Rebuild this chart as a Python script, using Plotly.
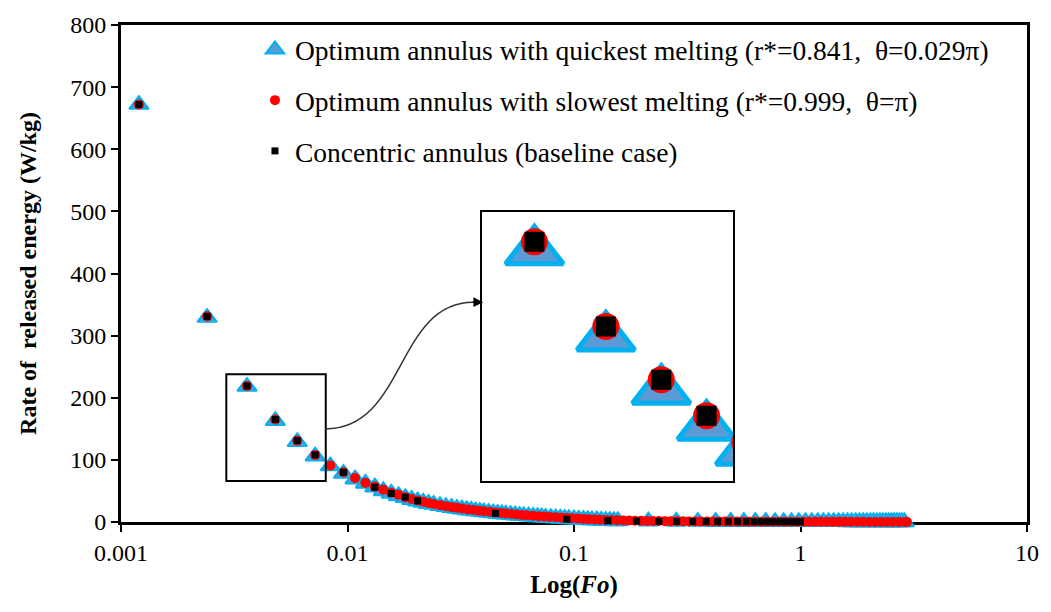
import plotly.graph_objects as go

# ---------------- data ----------------
quick_fo = [0.0012, 0.0024, 0.0036, 0.0048, 0.006, 0.0072, 0.0084, 0.0096, 0.0108, 0.012,
            0.0132, 0.0144, 0.0156, 0.0168, 0.018, 0.0192, 0.0204, 0.0216, 0.0228, 0.024,
            0.0256, 0.0272, 0.0288, 0.0304, 0.032, 0.0336, 0.0352, 0.0368, 0.0384, 0.04,
            0.042, 0.044, 0.046, 0.048, 0.05, 0.0525, 0.055, 0.0575, 0.06, 0.063,
            0.066, 0.069, 0.072, 0.075, 0.079, 0.083, 0.087, 0.091, 0.095, 0.1,
            0.105, 0.11, 0.115, 0.12, 0.126, 0.132, 0.138, 0.144, 0.15, 0.156,
            0.213, 0.283, 0.352, 0.422, 0.492, 0.562, 0.632, 0.702, 0.772, 0.842,
            0.912, 0.982, 1.052, 1.122, 1.192, 1.262, 1.332, 1.402, 1.472, 1.542,
            1.612, 1.682, 1.752, 1.822, 1.892, 1.962, 2.032, 2.102, 2.172, 2.242,
            2.312, 2.382, 2.452, 2.522, 2.592, 2.662, 2.732, 2.802, 2.872]
quick_rate = [672, 329, 218, 163, 129, 106, 90, 78, 69, 62,
              56, 50, 46, 42, 39, 36, 33.5, 31.5, 29.5, 28,
              26, 24.5, 23, 21.7, 20.5, 19.5, 18.5, 17.6, 16.8, 16,
              15.1, 14.3, 13.6, 12.9, 12.3, 11.6, 11, 10.4, 9.9, 9.3,
              8.7, 8.2, 7.7, 7.2, 6.7, 6.2, 5.7, 5.3, 4.9, 4.5,
              4.1, 3.7, 3.4, 3.1, 2.8, 2.5, 2.2, 2.0, 1.8, 1.6,
              1.2, 0.9, 0.7, 0.6, 0.5, 0.45, 0.4, 0.38, 0.35, 0.33,
              0.31, 0.3, 0.28, 0.27, 0.26, 0.25, 0.24, 0.23, 0.22, 0.21,
              0.2, 0.2, 0.19, 0.18, 0.18, 0.17, 0.17, 0.16, 0.16, 0.15,
              0.15, 0.14, 0.14, 0.13, 0.13, 0.12, 0.12, 0.12, 0.11]

slow_fo = [0.0012, 0.0024, 0.0036, 0.0048, 0.006, 0.0072, 0.0084, 0.0096, 0.0108, 0.012,
           0.0132, 0.0144, 0.0156, 0.0168, 0.018, 0.0192, 0.0204, 0.0216, 0.0228, 0.024,
           0.0256, 0.0272, 0.0288, 0.0304, 0.032, 0.034, 0.036, 0.038, 0.040, 0.0425,
           0.045, 0.0475, 0.050, 0.053, 0.056, 0.059, 0.062, 0.066, 0.070, 0.074,
           0.078, 0.083, 0.088, 0.093, 0.098, 0.104, 0.110, 0.116, 0.123, 0.130,
           0.138, 0.146, 0.155, 0.165, 0.175, 0.186, 0.198, 0.21, 0.223, 0.237,
           0.252, 0.268, 0.285, 0.303, 0.322, 0.342, 0.364, 0.387, 0.411, 0.437,
           0.465, 0.494, 0.525, 0.558, 0.593, 0.63, 0.67, 0.712, 0.757, 0.805,
           0.855, 0.909, 0.966, 1.03, 1.09, 1.16, 1.23, 1.31, 1.39, 1.48,
           1.57, 1.67, 1.78, 1.89, 2.01, 2.14, 2.27, 2.41, 2.56, 2.72,
           2.89, 2.95]
slow_rate = [672, 331, 219, 165, 131, 108, 91, 80, 71, 63,
             57, 52, 47, 44, 40, 37, 34.5, 32.5, 30.5, 29,
             27, 25.5, 24, 22.8, 21.6, 20.3, 19.2, 18.2, 17.3, 16.3,
             15.3, 14.5, 13.7, 12.9, 12.1, 11.4, 10.8, 10.1, 9.4, 8.8,
             8.2, 7.6, 7.0, 6.5, 6.0, 5.5, 5.0, 4.6, 4.2, 3.8,
             3.4, 3.1, 2.8, 2.5, 2.3, 2.1, 1.9, 1.7, 1.6, 1.5,
             1.4, 1.3, 1.2, 1.1, 1.0, 0.95, 0.9, 0.85, 0.8, 0.75,
             0.7, 0.66, 0.62, 0.58, 0.55, 0.52, 0.49, 0.46, 0.43, 0.41,
             0.39, 0.37, 0.35, 0.33, 0.31, 0.3, 0.28, 0.27, 0.26, 0.25,
             0.24, 0.23, 0.22, 0.21, 0.2, 0.19, 0.18, 0.17, 0.16, 0.15,
             0.14, 0.14]

base_fo = [0.0012, 0.0024, 0.0036, 0.0048, 0.006, 0.0072, 0.0096, 0.0132, 0.0156, 0.018,
           0.0204, 0.045, 0.093, 0.141, 0.189, 0.237, 0.284, 0.334, 0.383, 0.431,
           0.48, 0.528, 0.576, 0.624, 0.672, 0.72, 0.768, 0.816, 0.864, 0.912,
           0.96, 1.0]
base_rate = [672, 331, 219, 165, 131, 108, 80, 56, 46, 40,
             34, 14, 4.5, 2.2, 1.5, 1.1, 0.9, 0.75, 0.65, 0.55,
             0.5, 0.45, 0.42, 0.4, 0.38, 0.36, 0.34, 0.33, 0.32, 0.31,
             0.3, 0.3]

series_names = [
    "Optimum annulus with quickest melting (r*=0.841,  \u03b8=0.029\u03c0)",
    "Optimum annulus with slowest melting (r*=0.999,  \u03b8=\u03c0)",
    "Concentric annulus (baseline case)",
]
x_tick_vals = [0.001, 0.01, 0.1, 1, 10]
x_tick_text = ["0.001", "0.01", "0.1", "1", "10"]
x_title = "Log(<i>Fo</i>)"
y_title = "Rate of  released energy (W/kg)"

# zoomed window shown in the inset (log10 Fo range, rate range)
inset_logfo = [-2.535, -2.096]
inset_rate = [66, 238]

# ---------------- styling ----------------
FONT = "Liberation Serif, Times New Roman, serif"
BLUE_FILL = "#5B9BD5"
BLUE_EDGE = "#00B0F0"
W, H = 1051, 612
L, R, T, B = 121, 17, 20, 90
PW, PH = W - L - R, H - T - B


def px_x(px):
    return (px - L) / PW


def px_y(py):
    return (H - B - py) / PH


fig = go.Figure()

# main traces
fig.add_trace(go.Scatter(x=quick_fo, y=quick_rate, mode="markers", name=series_names[0],
                         legendgroup="a", cliponaxis=False,
                         marker=dict(symbol="triangle-up", size=17, color=BLUE_FILL,
                                     line=dict(color=BLUE_EDGE, width=2))))
fig.add_trace(go.Scatter(x=slow_fo, y=slow_rate, mode="markers", name=series_names[1],
                         legendgroup="b", cliponaxis=False,
                         marker=dict(symbol="circle", size=10, color="#FF0000")))
fig.add_trace(go.Scatter(x=base_fo, y=base_rate, mode="markers", name=series_names[2],
                         legendgroup="c", cliponaxis=False,
                         marker=dict(symbol="square", size=7, color="#000000")))

# inset (magnified view of the same data); triangles on the base inset axis,
# circles and squares on the overlaying axis so they sit on top
fig.add_trace(go.Scatter(x=quick_fo, y=quick_rate, mode="markers", showlegend=False,
                         xaxis="x2", yaxis="y2", cliponaxis=True, hoverinfo="skip",
                         marker=dict(symbol="triangle-up", size=50, color=BLUE_FILL,
                                     line=dict(color=BLUE_EDGE, width=5))))
fig.add_trace(go.Scatter(x=slow_fo, y=slow_rate, mode="markers", showlegend=False,
                         xaxis="x2", yaxis="y3", cliponaxis=True, hoverinfo="skip",
                         marker=dict(symbol="circle", size=27, color="#FF0000")))
fig.add_trace(go.Scatter(x=base_fo, y=base_rate, mode="markers", showlegend=False,
                         xaxis="x2", yaxis="y3", cliponaxis=True, hoverinfo="skip",
                         marker=dict(symbol="square", size=20, color="#000000")))

axis_common = dict(showgrid=False, zeroline=False, showline=True, linecolor="black",
                   linewidth=3, mirror=True, ticks="outside", ticklen=7, tickwidth=2,
                   tickcolor="black", layer="below traces",
                   tickfont=dict(family=FONT, size=24, color="black"))

inset_x_dom = [px_x(485), px_x(738)]
inset_y_dom = [px_y(481), px_y(209)]
# triangle symbols are drawn above their centre; shift their axis so they look centred
shift = (inset_rate[1] - inset_rate[0]) * 8 / ((inset_y_dom[1] - inset_y_dom[0]) * PH)

fig.update_layout(
    width=W, height=H,
    margin=dict(l=L, r=R, t=T, b=B),
    paper_bgcolor="white", plot_bgcolor="white",
    font=dict(family=FONT, color="black"),
    xaxis=dict(axis_common, type="log", range=[-3, 1], tickvals=x_tick_vals,
               ticktext=x_tick_text,
               title=dict(text="<b>" + x_title + "</b>", standoff=11,
                          font=dict(family=FONT, size=25, color="black"))),
    yaxis=dict(axis_common, range=[0, 800], dtick=100,
               title=dict(text="<b>" + y_title + "</b>", standoff=27,
                          font=dict(family=FONT, size=24, color="black"))),
    xaxis2=dict(type="log", range=inset_logfo, domain=inset_x_dom, anchor="y2",
                showgrid=False, zeroline=False, showticklabels=False, ticks="",
                showline=True, mirror=True, linecolor="black", linewidth=2),
    yaxis2=dict(range=[inset_rate[0] + shift, inset_rate[1] + shift], domain=inset_y_dom,
                anchor="x2", showgrid=False, zeroline=False, showticklabels=False,
                ticks="", showline=True, mirror=True, linecolor="black", linewidth=2),
    yaxis3=dict(range=inset_rate, overlaying="y2", anchor="x2", visible=False),
    legend=dict(x=px_x(256), y=px_y(20), xanchor="left", yanchor="top",
                bgcolor="rgba(0,0,0,0)", tracegroupgap=12,
                font=dict(family=FONT, size=27.5, color="black")),
    showlegend=True,
)

# rectangle marking the magnified window on the main chart
fig.add_shape(type="rect", xref="x", yref="y",
              x0=10 ** inset_logfo[0], x1=10 ** inset_logfo[1],
              y0=inset_rate[0], y1=inset_rate[1],
              line=dict(color="black", width=2), fillcolor="rgba(0,0,0,0)")

# curved connector with arrow head
sx, sy = px_x(327), px_y(428)
c1x, c1y = px_x(408), px_y(428)
c2x, c2y = px_x(398), px_y(300)
ex, ey = px_x(476), px_y(300)
fig.add_shape(type="path", xref="paper", yref="paper",
              path=f"M {sx},{sy} C {c1x},{c1y} {c2x},{c2y} {ex},{ey}",
              line=dict(color="#333333", width=1.5))
fig.add_annotation(xref="paper", yref="paper", x=px_x(486), y=px_y(300),
                   ax=-12, ay=0, text="", showarrow=True, arrowhead=2,
                   arrowsize=1.3, arrowwidth=1.5, arrowcolor="black")

fig.write_html("out.html")
